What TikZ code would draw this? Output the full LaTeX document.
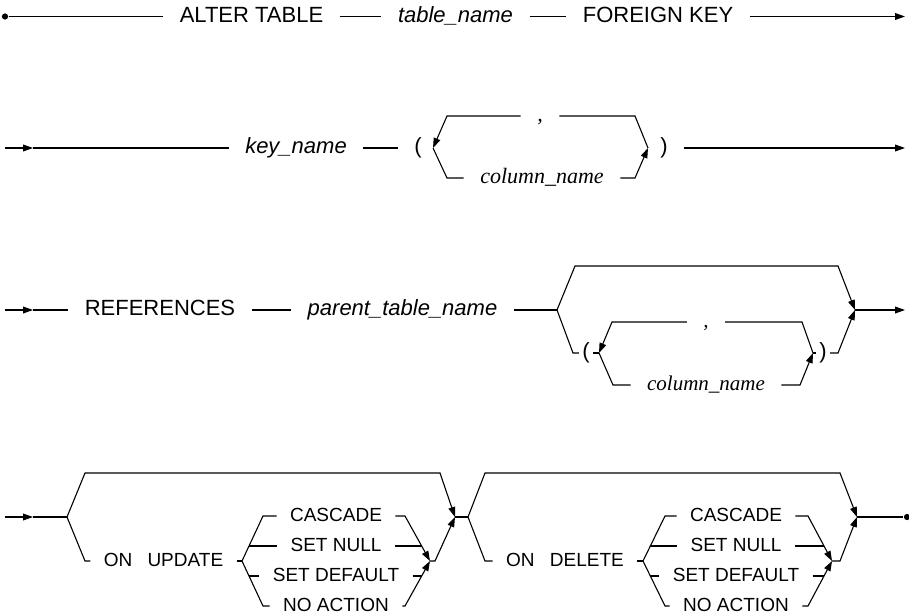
\documentclass[tikz,border=0pt]{standalone}
\usepackage{fontspec}
\setmainfont{Liberation Sans}
\newfontfamily\serifface{Liberation Serif}
\usetikzlibrary{arrows.meta}

\begin{document}
\begin{tikzpicture}[
  x = 0.5pt,
  y = -0.5pt,
  line width = 0.55pt,
  > = {Triangle[length = 5pt, width = 3.4pt]},
  keyword/.style = {font = \fontsize{11}{13}\selectfont, inner xsep = 8pt,
    inner ysep = 0pt, text height = 7.9pt, text depth = 2pt},
  identifier/.style = {keyword, font = \fontsize{11}{13}\selectfont\itshape},
  argument/.style = {keyword, font = \fontsize{#1}{13}\selectfont\serifface\itshape},
  argument/.default = 11,
  option/.style = {keyword, font = \fontsize{9.5}{11}\selectfont, inner xsep = 6.5pt,
    text height = 6.8pt, text depth = 1.8pt},
  paren/.style = {keyword, inner xsep = 1.5pt},
  terminal/.style = {circle, fill, inner sep = 1.1pt},
  ]

  \useasboundingbox (0, 0) rectangle (909, 615);

  % ALTER TABLE ... FOREIGN KEY
  \node at (5, 16.5) [terminal, name = Start1] {};

  \node at (251.5, 16.5) [keyword, name = AlterTable] {ALTER TABLE};

  \node at (455.5, 16.5) [identifier, name = TableName] {table\_name};

  \node at (658, 16.5) [keyword, name = ForeignKey] {FOREIGN KEY};

  \coordinate (End1) at (905, 16.5);

  \draw (Start1) to (AlterTable);

  \draw (AlterTable) to (TableName);

  \draw (TableName) to (ForeignKey);

  \draw [->] (ForeignKey) to (End1);

  % key_name ( column_name, ... )
  \coordinate (Start2) at (5, 148);

  \coordinate (Start2Tip) at (33, 148);

  \node at (296, 148) [identifier, name = KeyName] {key\_name};

  \node at (418, 148) [keyword, name = KeyOpen] {(};

  \coordinate (KeyLoopIn) at (433, 148);

  \coordinate (KeyLoopTL) at (447, 116);

  \node at (540, 116) [argument, name = KeyComma] {,};

  \coordinate (KeyLoopTR) at (635, 116);

  \coordinate (KeyLoopOut) at (648, 148);

  \coordinate (KeyLoopBL) at (447, 178);

  \node at (542, 178) [argument, name = KeyColumn] {column\_name};

  \coordinate (KeyLoopBR) at (635, 178);

  \node at (664, 148) [keyword, name = KeyClose] {)};

  \coordinate (End2) at (905, 148);

  \draw [->] (Start2) to (Start2Tip);

  \draw (Start2Tip) to (KeyName);

  \draw (KeyName) to (KeyOpen);

  \draw (KeyLoopIn) -- (KeyLoopBL) -- (KeyColumn);

  \draw [->] (KeyColumn) -- (KeyLoopBR) -- (KeyLoopOut);

  \draw (KeyLoopOut) -- (KeyLoopTR) -- (KeyComma);

  \draw [->] (KeyComma) -- (KeyLoopTL) -- (KeyLoopIn);

  \draw [->] (KeyClose) to (End2);

  % REFERENCES parent_table_name [ ( column_name, ... ) ]
  \coordinate (Start3) at (5, 310);

  \coordinate (Start3Tip) at (33, 310);

  \node at (160, 310) [keyword, name = References] {REFERENCES};

  \node at (402.5, 310) [identifier, name = ParentName] {parent\_table\_name};

  \coordinate (RefSplit) at (557, 310);

  \coordinate (RefSkipL) at (575, 266);

  \coordinate (RefSkipR) at (838, 266);

  \coordinate (RefJoin) at (855, 310);

  \coordinate (RefListL) at (573, 353);

  \node at (586, 353) [paren, name = RefOpen] {(};

  \coordinate (RefLoopIn) at (599, 353);

  \coordinate (RefLoopTL) at (612, 322);

  \node at (706, 322) [argument = 10.5, name = RefComma] {,};

  \coordinate (RefLoopTR) at (802, 322);

  \coordinate (RefLoopOut) at (813, 353);

  \coordinate (RefLoopBL) at (613, 385);

  \node at (706, 385) [argument = 10.5, name = RefColumn] {column\_name};

  \coordinate (RefLoopBR) at (800, 385);

  \node at (823, 353) [paren, name = RefClose] {)};

  \coordinate (RefListR) at (838, 353);

  \coordinate (End3) at (905, 310);

  \draw [->] (Start3) to (Start3Tip);

  \draw (Start3Tip) to (References);

  \draw (References) to (ParentName);

  \draw (ParentName) to (RefSplit);

  \draw [->] (RefSplit) -- (RefSkipL) -- (RefSkipR) -- (RefJoin);

  \draw (RefSplit) -- (RefListL) -- (RefOpen);

  \draw (RefOpen) to (RefLoopIn);

  \draw (RefLoopIn) -- (RefLoopBL) -- (RefColumn);

  \draw [->] (RefColumn) -- (RefLoopBR) -- (RefLoopOut);

  \draw (RefLoopOut) -- (RefLoopTR) -- (RefComma);

  \draw [->] (RefComma) -- (RefLoopTL) -- (RefLoopIn);

  \draw (RefLoopOut) to (RefClose);

  \draw [->] (RefClose) -- (RefListR) -- (RefJoin);

  \draw [->] (RefJoin) to (End3);

  % [ ON UPDATE action ]
  \coordinate (Start4) at (5, 517);

  \coordinate (Start4Tip) at (33, 517);

  \coordinate (UpdSplit) at (67, 517);

  \coordinate (UpdSkipL) at (85, 473);

  \coordinate (UpdSkipR) at (440, 473);

  \coordinate (UpdJoin) at (455, 517);

  \coordinate (UpdClauseL) at (85, 561);

  \node at (163.5, 561) [option, name = OnUpdate] {ON\hspace{0.8em}UPDATE};

  \coordinate (UpdFork) at (242, 561);

  \coordinate (UpdForkTop) at (263, 516);

  \coordinate (UpdForkUp) at (249, 546);

  \coordinate (UpdForkDown) at (249, 576);

  \coordinate (UpdForkBottom) at (263, 606);

  \node at (336, 516) [option, name = UpdCascade] {CASCADE};

  \node at (336, 546) [option, name = UpdSetNull] {SET NULL};

  \node at (336, 576) [option, name = UpdSetDefault] {SET DEFAULT};

  \node at (336, 606) [option, name = UpdNoAction] {NO ACTION};

  \coordinate (UpdMergeTop) at (405, 516);

  \coordinate (UpdMergeUp) at (422, 546);

  \coordinate (UpdMergeDown) at (422, 576);

  \coordinate (UpdMergeBottom) at (405, 606);

  \coordinate (UpdMerge) at (430, 561);

  \coordinate (UpdClauseR) at (435, 561);

  \draw [->] (Start4) to (Start4Tip);

  \draw (Start4Tip) to (UpdSplit);

  \draw [->] (UpdSplit) -- (UpdSkipL) -- (UpdSkipR) -- (UpdJoin);

  \draw (UpdSplit) -- (UpdClauseL) -- (OnUpdate);

  \draw (OnUpdate) to (UpdFork);

  \draw (UpdFork) -- (UpdForkTop) -- (UpdCascade);

  \draw (UpdForkUp) to (UpdSetNull);

  \draw (UpdForkDown) to (UpdSetDefault);

  \draw (UpdFork) -- (UpdForkBottom) -- (UpdNoAction);

  \draw [->] (UpdCascade) -- (UpdMergeTop) -- (UpdMerge);

  \draw (UpdSetNull) to (UpdMergeUp);

  \draw (UpdSetDefault) to (UpdMergeDown);

  \draw [->] (UpdNoAction) -- (UpdMergeBottom) -- (UpdMerge);

  \draw [->] (UpdMerge) -- (UpdClauseR) -- (UpdJoin);

  % [ ON DELETE action ]
  \coordinate (DelSplit) at (468, 517);

  \coordinate (DelSkipL) at (485, 473);

  \coordinate (DelSkipR) at (840, 473);

  \coordinate (DelJoin) at (857, 517);

  \coordinate (DelClauseL) at (485, 561);

  \node at (565, 561) [option, name = OnDelete] {ON\hspace{0.8em}DELETE};

  \coordinate (DelFork) at (643, 561);

  \coordinate (DelForkTop) at (665, 516);

  \coordinate (DelForkUp) at (650, 546);

  \coordinate (DelForkDown) at (650, 576);

  \coordinate (DelForkBottom) at (665, 606);

  \node at (736, 516) [option, name = DelCascade] {CASCADE};

  \node at (736, 546) [option, name = DelSetNull] {SET NULL};

  \node at (736, 576) [option, name = DelSetDefault] {SET DEFAULT};

  \node at (736, 606) [option, name = DelNoAction] {NO ACTION};

  \coordinate (DelMergeTop) at (808, 516);

  \coordinate (DelMergeUp) at (824, 546);

  \coordinate (DelMergeDown) at (824, 576);

  \coordinate (DelMergeBottom) at (808, 606);

  \coordinate (DelMerge) at (832, 561);

  \coordinate (DelClauseR) at (840, 561);

  \node at (907, 517) [terminal, name = End4] {};

  \draw (UpdJoin) to (DelSplit);

  \draw [->] (DelSplit) -- (DelSkipL) -- (DelSkipR) -- (DelJoin);

  \draw (DelSplit) -- (DelClauseL) -- (OnDelete);

  \draw (OnDelete) to (DelFork);

  \draw (DelFork) -- (DelForkTop) -- (DelCascade);

  \draw (DelForkUp) to (DelSetNull);

  \draw (DelForkDown) to (DelSetDefault);

  \draw (DelFork) -- (DelForkBottom) -- (DelNoAction);

  \draw [->] (DelCascade) -- (DelMergeTop) -- (DelMerge);

  \draw (DelSetNull) to (DelMergeUp);

  \draw (DelSetDefault) to (DelMergeDown);

  \draw [->] (DelNoAction) -- (DelMergeBottom) -- (DelMerge);

  \draw [->] (DelMerge) -- (DelClauseR) -- (DelJoin);

  \draw (DelJoin) to (End4);

\end{tikzpicture}
\end{document}
